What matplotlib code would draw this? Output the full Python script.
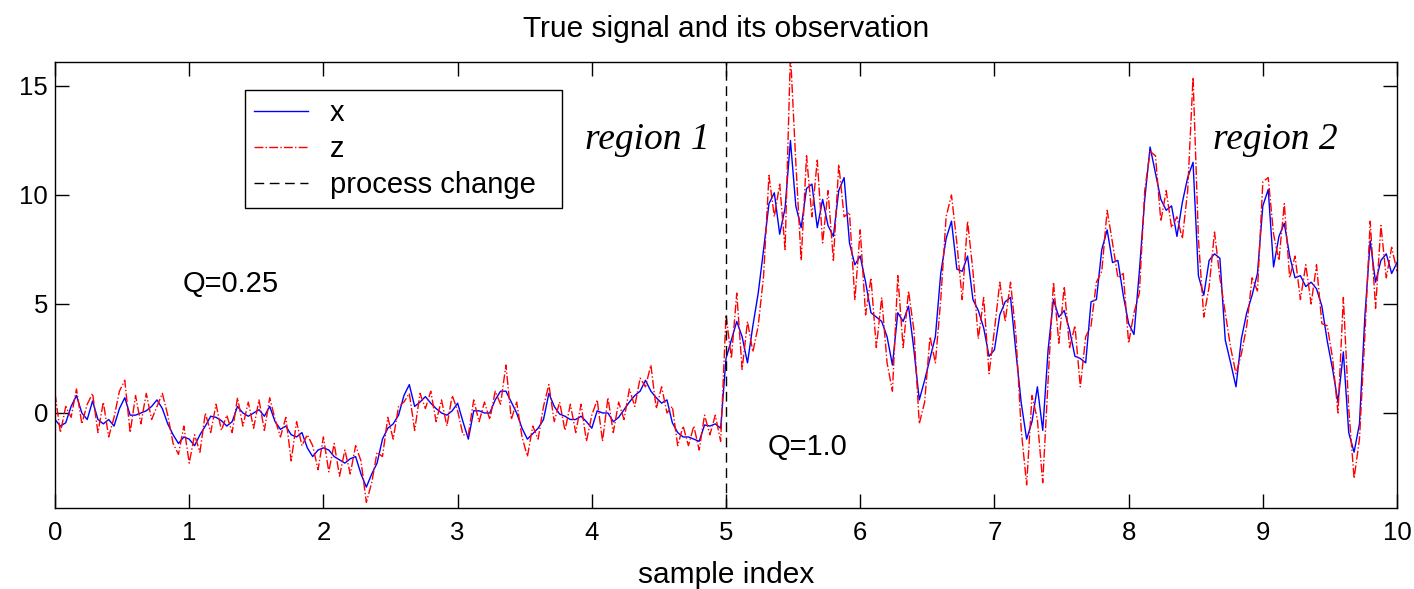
import numpy as np
import matplotlib
matplotlib.use("Agg")
import matplotlib.pyplot as plt

# sample grid, step 0.04
t = np.linspace(0, 10, 251)

# true signal x
x = [
    -0.3, -0.6, -0.45, 0.3, 0.8, 0.0, -0.3, 0.55, -0.3, -0.5,
    -0.3, -0.6, 0.2, 0.7, -0.1, -0.1, 0.0, 0.1, 0.3, 0.6,
    0.2, -0.5, -1.0, -1.4, -1.1, -1.2, -1.5, -1.0, -0.6, -0.15,
    -0.2, -0.35, -0.6, -0.4, 0.3, 0.0, -0.15, 0.0, 0.15, -0.15,
    0.3, -0.4, -0.75, -0.6, -1.0, -1.1, -0.9, -1.6, -2.0, -1.7,
    -1.6, -1.7, -2.0, -2.15, -2.3, -2.1, -2.0, -2.8, -3.4, -2.8,
    -2.3, -1.2, -0.7, -0.5, -0.1, 0.8, 1.3, 0.3, 0.5, 0.75,
    0.45, 0.2, 0.0, -0.1, 0.1, 0.45, -0.4, -1.2, 0.1, 0.1,
    0.0, 0.0, 0.6, 1.0, 1.0, 0.5, 0.0, -0.7, -1.2, -0.95,
    -0.7, -0.3, 0.9, 0.3, -0.05, -0.15, -0.3, -0.3, -0.15, -0.4,
    -0.7, 0.1, 0.0, 0.0, -0.4, -0.2, 0.15, 0.5, 0.8, 1.0,
    1.5, 1.0, 0.7, 0.45, 0.6, -0.45, -0.9, -1.1, -1.1, -1.2,
    -1.3, -0.55, -0.6, -0.5, -0.7,
    2.5, 3.35, 4.2, 3.5, 2.3, 4.0, 5.5, 7.5, 9.6, 10.1,
    8.2, 9.4, 12.5, 9.5, 8.5, 10.3, 10.5, 8.5, 9.8, 8.6,
    8.1, 10.2, 10.8, 7.8, 6.8, 7.2, 6.0, 4.6, 4.4, 4.2,
    3.5, 2.2, 4.6, 4.2, 4.9, 2.9, 0.6, 1.5, 2.5, 3.5,
    6.4, 8.0, 8.8, 6.6, 6.5, 7.2, 5.2, 4.7, 3.9, 2.6,
    2.9, 4.5, 5.1, 5.3, 2.8, 0.45, -1.2, -0.4, 1.2, -0.8,
    2.9, 5.2, 4.4, 4.7, 3.8, 2.6, 2.5, 2.3, 5.1, 5.2,
    7.5, 8.4, 6.9, 7.0, 5.4, 4.1, 3.6, 6.5, 9.8, 12.2,
    11.0, 9.8, 9.3, 9.5, 8.1, 9.65, 10.8, 11.5, 6.3, 5.4,
    7.0, 7.3, 7.1, 3.35, 2.3, 1.2, 3.4, 4.6, 5.4, 6.4,
    9.5, 10.25, 6.7, 8.1, 8.7, 7.2, 6.2, 6.3, 5.8, 6.0,
    5.7, 4.9, 3.3, 2.0, 0.5, 2.8, -0.9, -1.8, -0.5, 4.4,
    7.9, 6.0, 7.0, 7.3, 6.4, 6.9,
]

# noisy observation z
z = [
    0.9, -0.9, 0.3, -0.2, 1.1, -0.5, 0.4, 0.9, -0.9, 0.5,
    -1.1, -0.2, 1.0, 1.5, -0.9, 0.8, -0.5, 0.9, -0.3, 0.3,
    0.9, -0.1, -1.4, -1.9, -0.6, -2.3, -1.0, -1.8, 0.0, -0.9,
    0.4, -0.8, -0.1, -0.9, 0.7, -0.6, 0.5, -0.7, 0.6, -0.8,
    0.7, -0.3, -1.1, -0.2, -2.2, -0.4, -1.5, -1.0, -1.5, -2.6,
    -1.1, -2.7, -1.4, -2.9, -1.7, -2.8, -1.5, -2.2, -4.1, -3.2,
    -1.8, -2.0, -0.2, -1.2, 0.3, 0.5, 0.9, -0.8, 0.9, 0.2,
    1.0, -0.4, 0.6, -0.6, 0.8, 0.1, -1.0, -1.0, 0.6, -0.4,
    0.5, -0.3, 1.0, 0.4, 2.2, -0.3, 0.5, -1.1, -2.0, -0.6,
    -1.2, 0.3, 1.3, -0.4, 0.5, -0.8, 0.4, -0.9, 0.4, -1.3,
    -0.1, 0.6, -1.3, 0.7, -0.9, 0.5, -0.3, 1.1, 0.3, 1.6,
    1.2, 2.2, 0.2, 1.2, 0.0, 0.3, -1.5, -0.6, -1.5, -0.6,
    -1.7, -0.1, -1.0, -0.1, -1.3,
    4.5, 2.5, 5.5, 2.0, 4.2, 2.8, 4.0, 6.3, 10.9, 9.0,
    10.5, 7.5, 16.5, 11.5, 7.0, 11.8, 9.0, 11.6, 7.8, 10.2,
    7.0, 11.4, 9.0, 9.2, 5.2, 8.4, 4.5, 6.2, 3.0, 5.3,
    2.3, 1.0, 6.3, 3.0, 5.6, 3.8, -0.5, 0.5, 3.5, 2.3,
    5.2, 9.0, 10.0, 7.8, 5.2, 8.8, 6.5, 3.4, 5.3, 1.8,
    3.8, 6.0, 4.2, 6.0, 3.6, -0.8, -3.3, 0.8, -0.3, -3.2,
    1.5, 6.0, 3.2, 5.8, 3.0, 4.0, 1.2, 3.5, 4.0, 6.0,
    6.5, 9.3, 7.8, 6.2, 6.4, 3.2, 4.6, 5.5, 10.2, 12.0,
    11.8, 8.8, 10.2, 8.5, 9.0, 8.0, 10.2, 15.4, 8.0, 4.4,
    5.8, 8.3, 6.2, 4.6, 3.0, 1.8, 2.7, 4.0, 6.2, 5.6,
    10.6, 10.8, 8.2, 7.0, 9.6, 6.2, 7.2, 5.2, 6.8, 5.0,
    6.8, 4.1, 4.0, 2.5, 0.0, 5.3, 0.2, -3.0, -1.2, 3.5,
    8.8, 4.8, 8.6, 6.2, 7.6, 6.5,
]

change_at = 5

plt.rcParams['font.family'] = ['Liberation Sans', 'DejaVu Sans']

fig = plt.figure(figsize=(14.14, 5.89), dpi=100)
ax = fig.add_axes([0.0389, 0.1375, 0.9491, 0.7572])

ax.plot(t, x, color='blue', lw=1.0, label='x')
ax.plot(t, z, color='red', lw=1.0, ls='-.', label='z')
ax.axvline(change_at, color='black', lw=1.0, ls=(0, (7, 4)), label='process change')

ax.set_xlim(0, 10)
ax.set_ylim(-4.36, 16.1)
ax.set_xticks(range(0, 11))
ax.set_yticks([0, 5, 10, 15])
ax.tick_params(direction='in', length=10, width=1, top=True, right=True,
               labelsize=18.5)
ax.tick_params(axis='x', pad=9)
ax.tick_params(axis='y', pad=5)
for s in ax.spines.values():
    s.set_linewidth(1.0)

ax.set_title("True signal and its observation", fontsize=21.5, pad=18)
ax.set_xlabel("sample index", fontsize=21.5, labelpad=12)

ax.text(0.954, 5.9, "Q=0.25", fontsize=21, va='center')
ax.text(5.31, -1.56, "Q=1.0", fontsize=21, va='center')
ax.text(3.95, 12.1, "region 1", fontsize=27, style='italic',
        family='Liberation Serif')
ax.text(8.63, 12.1, "region 2", fontsize=27, style='italic',
        family='Liberation Serif')

# legend box stretched to the width seen in the reference
leg = ax.legend(loc='upper left', bbox_to_anchor=(0.1416, 0.5, 0.2362, 0.437),
                mode='expand', borderaxespad=0, fancybox=False,
                edgecolor='black', fontsize=21, handlelength=1.85,
                handletextpad=0.75, labelspacing=0.28, borderpad=0.3,
                framealpha=1)
leg.get_frame().set_linewidth(1.0)

fig.savefig("out.png", dpi=100)
